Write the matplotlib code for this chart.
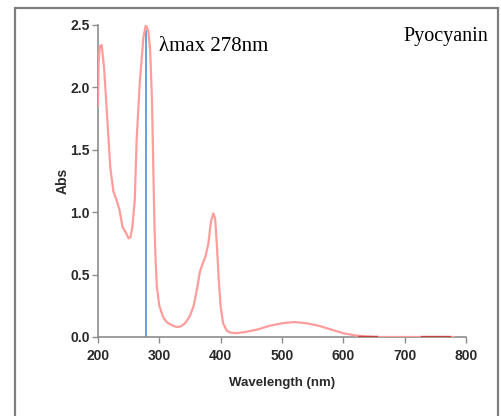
import numpy as np
import matplotlib
matplotlib.use('Agg')
import matplotlib.pyplot as plt
from matplotlib.patches import Rectangle

# UV-Vis absorbance spectrum of pyocyanin
wavelength = [200, 201, 203, 206, 210, 215, 220, 225, 230, 235, 240, 245, 250, 253,
              256, 260, 263, 268, 274, 278, 282, 285, 288, 290, 292, 294, 296, 300,
              306, 312, 320, 328, 335, 342, 350, 356, 362, 366, 370, 375, 380, 384,
              388, 391, 394, 397, 400, 404, 410, 416, 425, 440, 460, 480, 500, 520,
              540, 560, 580, 600, 620, 640, 660, 700, 740, 780]
absorbance = [1.85, 2.20, 2.33, 2.34, 2.15, 1.76, 1.36, 1.17, 1.10, 1.02, 0.88, 0.84,
              0.79, 0.80, 0.88, 1.10, 1.58, 2.03, 2.40, 2.50, 2.45, 2.30, 1.90, 1.40,
              0.90, 0.60, 0.40, 0.25, 0.16, 0.12, 0.095, 0.08, 0.085, 0.11, 0.17,
              0.25, 0.40, 0.52, 0.58, 0.64, 0.75, 0.92, 0.99, 0.95, 0.72, 0.45, 0.24,
              0.11, 0.05, 0.035, 0.03, 0.04, 0.06, 0.09, 0.11, 0.12, 0.11, 0.09, 0.06,
              0.03, 0.012, 0.004, 0.0, 0.0, 0.0, 0.0]

# baseline stretches traced by the instrument in a darker red
base_seg1_x = [625, 655]
base_seg2_x = [728, 774]
base_y = [0.0, 0.0]

lambda_max = 278
peak_abs = 2.45

xticks = [200, 300, 400, 500, 600, 700, 800]
yticks = [0.0, 0.5, 1.0, 1.5, 2.0, 2.5]

fig = plt.figure(figsize=(5.01, 4.16), dpi=100)
fig.patch.set_facecolor('white')

# outer frame around the whole panel
frame = Rectangle((15 / 501, -0.05), 483 / 501, 1.05 - 8 / 416,
                  transform=fig.transFigure, fill=False,
                  edgecolor='#7f7f7f', linewidth=1.6)
fig.patches.append(frame)

ax = fig.add_axes([98 / 501, 1 - 337 / 416, 368 / 501, 312 / 416])
ax.plot(wavelength, absorbance, color='#ff9c9c', linewidth=1.6, zorder=3)
ax.plot(base_seg1_x, base_y, color='#c84040', linewidth=1.6, zorder=4)
ax.plot(base_seg2_x, base_y, color='#c84040', linewidth=1.6, zorder=4)
ax.plot([lambda_max, lambda_max], [0, peak_abs], color='#4a90e2', linewidth=1.2, zorder=2)

ax.set_xlim(200, 800)
ax.set_ylim(0, 2.5)
ax.set_xticks(xticks)
ax.set_yticks(yticks)
ax.set_yticklabels([f'{v:.1f}' for v in yticks])

for side in ['top', 'right']:
    ax.spines[side].set_visible(False)
for side in ['left', 'bottom']:
    ax.spines[side].set_color('#8c8c8c')
    ax.spines[side].set_linewidth(1.2)

sans = ['Liberation Sans', 'DejaVu Sans']
ax.tick_params(axis='both', colors='#8c8c8c', length=4, width=1, labelcolor='#2a2a2a')
ax.tick_params(axis='x', pad=5)
ax.tick_params(axis='y', pad=2)
for lbl in ax.get_xticklabels() + ax.get_yticklabels():
    lbl.set_family(sans)
    lbl.set_fontweight('bold')
    lbl.set_fontsize(10)

ax.set_xlabel('Wavelength (nm)', family=sans, fontweight='bold', fontsize=9.5,
              color='#2a2a2a')
ax.xaxis.set_label_coords(0.5, -0.127)
ax.set_ylabel('Abs', family=sans, fontweight='bold', fontsize=10, color='#2a2a2a')
ax.yaxis.set_label_coords(-0.078, 0.5)

ax.text(300, 2.33, 'λmax 278nm', family=['Liberation Serif', 'DejaVu Serif'],
        fontsize=15, ha='left', va='center', color='black')
fig.text(488 / 501, 1 - 36 / 416, 'Pyocyanin', family=['Liberation Serif', 'DejaVu Serif'],
         fontsize=14.5, ha='right', va='center', color='black')

fig.savefig('out.png', dpi=100)
